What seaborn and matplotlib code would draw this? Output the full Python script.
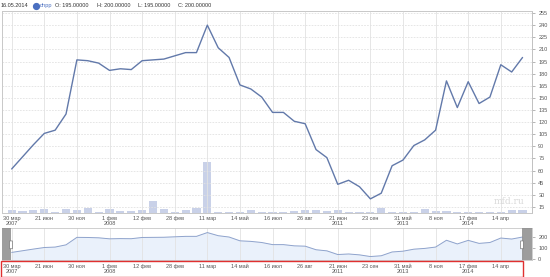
import matplotlib
matplotlib.use("Agg")
import matplotlib.pyplot as plt
import seaborn as sns
import numpy as np
import pandas as pd
from matplotlib.patches import Rectangle, FancyBboxPatch

# ---- data ----
close = [62, 77, 92, 106, 110, 130, 197, 196, 193, 184, 186, 185,
         196, 197, 198, 202, 206, 206, 240, 212, 200, 166, 161, 151,
         132, 132, 121, 118, 86, 76, 43, 48, 40, 25, 32, 66,
         73, 91, 98, 110, 171, 138, 170, 143, 151, 191, 182, 200]
volume = [3, 2, 3, 3.7, 1.3, 4, 3, 5, 1.3, 4.3, 2, 2,
          3, 12.3, 4.3, 1, 2.7, 4.7, 51, 1, 1, 1.3, 3, 1.3,
          1.3, 0.7, 2, 2.7, 3, 2.3, 3, 1, 0.7, 0.7, 5.3, 0.7,
          0.7, 0.7, 3.7, 2, 2, 0.7, 1.3, 0.7, 0.7, 0.7, 2.7, 3]
tick_idx = [0, 3, 6, 9, 12, 15, 18, 21, 24, 27, 30, 33, 36, 39, 42, 45]
tick_labels = ["30 мар\n2007", "21 июн", "30 ноя", "1 фев\n2008", "12 фев",
               "28 фев", "11 мар", "14 май", "16 июл", "26 авг",
               "21 июн\n2011", "23 сен", "31 май\n2013", "8 ноя",
               "17 фев\n2014", "14 апр"]
y_ticks = list(range(15, 256, 15))
nav_ticks = [0, 100, 200]
header = ["16.05.2014", "dnpp", "O: 195.00000", "H: 200.00000",
          "L: 195.00000", "C: 200.00000"]

df = pd.DataFrame({"i": np.arange(len(close)), "close": close, "vol": volume})

sns.set_style("white")
plt.rcParams["font.family"] = ["Liberation Sans", "DejaVu Sans"]

W, H = 550, 277
fig = plt.figure(figsize=(W / 100, H / 100), dpi=100)

def box(l, t, r, b):
    return [l / W, 1 - b / H, (r - l) / W, (b - t) / H]

XL = (-0.89, 47.87)
LINE = "#6279aa"
GRID = "#e2e2e2"
TXT = "#555555"
FS = 4.0

# ---- main axes ----
ax = fig.add_axes(box(2, 11, 532, 213))
ax2 = ax.twinx()
ax.set_zorder(2)
ax.patch.set_visible(False)

sns.barplot(data=df, x="i", y="vol", ax=ax2, color="#c9d1e8", width=0.75,
            saturation=1, native_scale=True, linewidth=0, edgecolor="none")
ax2.set_ylim(0, 202)
ax2.set_yticks([])
ax2.set_ylabel("")
ax2.set_xlabel("")

sns.lineplot(data=df, x="i", y="close", ax=ax, color=LINE, linewidth=1.0)
ax.set_xlim(*XL)
ax2.set_xlim(*XL)
ax.set_ylim(7.5, 257.5)
ax.set_xlabel("")
ax.set_ylabel("")

for y in y_ticks:
    ax.axhline(y, color=GRID, lw=0.6, ls=(0, (2, 1.5)), zorder=0)
for i in tick_idx:
    ax.axvline(i, color=GRID, lw=0.6, zorder=0)

ax.yaxis.tick_right()
ax.set_yticks(y_ticks)
ax.set_yticklabels([str(v) for v in y_ticks], fontsize=FS, color=TXT)
ax.tick_params(axis="y", which="both", right=True, length=2.5, width=0.5,
               color="#999999", pad=2)
ax.set_xticks(tick_idx)
ax.set_xticklabels(tick_labels, fontsize=FS, color=TXT, linespacing=1.0)
ax.tick_params(axis="x", length=0, pad=2)
for a in (ax, ax2):
    for s in a.spines.values():
        s.set_color("#c8c8c8")
        s.set_linewidth(0.6)
ax2.spines["right"].set_color("#999999")

ax.text(0.985, 0.035, "mfd.ru", transform=ax.transAxes, ha="right",
        va="bottom", fontsize=6.5, color="#d8d8d8", family="DejaVu Serif",
        zorder=1)

# ---- navigator ----
nav = fig.add_axes(box(2, 228, 532, 260))
sns.lineplot(data=df, x="i", y="close", ax=nav, color="#8fa3cc", linewidth=0.7)
nav.fill_between(df["i"], df["close"], -6, color="#eaf1fb", zorder=0)
nav.set_xlim(*XL)
nav.set_ylim(-6, 281)
nav.set_xlabel("")
nav.set_ylabel("")
for i in tick_idx:
    nav.axvline(i, color=GRID, lw=0.6, zorder=0)
nav.yaxis.tick_right()
nav.set_yticks(nav_ticks)
nav.set_yticklabels([str(v) for v in nav_ticks], fontsize=FS, color=TXT)
nav.tick_params(axis="y", right=True, length=2.5, width=0.5, color="#999999", pad=2)
nav.set_xticks(tick_idx)
nav.set_xticklabels(tick_labels, fontsize=FS, color=TXT, linespacing=1.0)
nav.tick_params(axis="x", length=0, pad=3)
for s in nav.spines.values():
    s.set_color("#c8c8c8")
    s.set_linewidth(0.6)
nav.spines["left"].set_visible(False)

# masks
nav.axvspan(XL[0], -0.06, color="#8c8c8c", alpha=0.85, lw=0, zorder=3)
nav.axvspan(46.95, XL[1], color="#8c8c8c", alpha=0.85, lw=0, zorder=3)
for hx in (-0.06, 46.95):
    nav.add_patch(FancyBboxPatch((hx - 0.13, 95), 0.26, 70,
                                 boxstyle="round,pad=0.0", fc="white",
                                 ec="#777777", lw=0.5, zorder=4))

# red box around navigator labels
fig.patches.append(Rectangle((1 / W, 1 - 276.5 / H), 522 / W, 15.5 / H,
                             transform=fig.transFigure, fill=False,
                             ec="#e03030", lw=1.0))

# ---- header ----
ty = 1 - 5.5 / H
fig.text(1 / W, ty, header[0], fontsize=FS, color="#333333", va="center")
fig.add_artist(plt.Line2D([36 / W], [ty], marker="o", markersize=4.2,
                          color="#4a6fc0", transform=fig.transFigure))
fig.text(40 / W, ty, header[1], fontsize=FS, color="#4a6fc0", va="center")
for x0, t in zip([55, 97, 138, 178], header[2:]):
    fig.text(x0 / W, ty, t, fontsize=FS, color="#333333", va="center")

fig.savefig("out.png", dpi=100)
